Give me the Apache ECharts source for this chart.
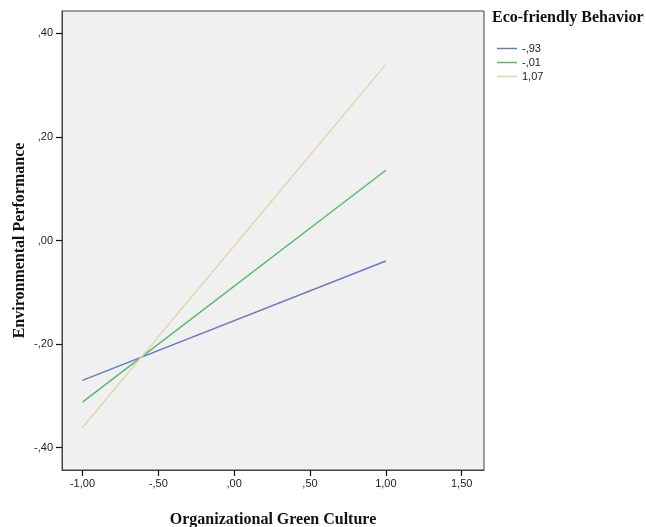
<!DOCTYPE html>
<html><head><meta charset="utf-8">
<script src="https://cdn.jsdelivr.net/npm/echarts@6/dist/echarts.min.js"></script>
<style>html,body{margin:0;padding:0;background:#fff}#c{width:646px;height:527px}</style>
</head><body><div id="c"></div>
<script>
const xValues = [-1.0, 1.0];
const seriesNames = ['-,93', '-,01', '1,07'];
const lowValues = [-0.270, -0.312, -0.361];
const highValues = [-0.0395, 0.1356, 0.340];
const xTicks = [-1.0, -0.5, 0.0, 0.5, 1.0, 1.5];
const yTicks = [-0.4, -0.2, 0.0, 0.2, 0.4];
const colors = ['#6d78c0', '#5ab86e', '#e2d4ab'];

function fmt(v){
  let s = Math.abs(v).toFixed(2).replace('.', ',');
  if (s.startsWith('0')) s = s.slice(1);
  return (v < -1e-9 ? '-' : '') + s;
}

const chart = echarts.init(document.getElementById('c'));
const series = seriesNames.map((n, i) => ({
  name: n, type: 'line', showSymbol: false, symbol: 'none',
  data: [[xValues[0], lowValues[i]], [xValues[1], highValues[i]]],
  lineStyle: {color: colors[i], width: 1.5}, itemStyle: {color: colors[i]},
  animation: false
}));
chart.setOption({
  animation: false,
  grid: {left: 62, right: 162, top: 11, bottom: 57, outerBoundsMode: 'none', containLabel: false, show: true, backgroundColor: '#f0f0f0', borderColor: '#444', borderWidth: 1},
  xAxis: {
    type: 'value', min: -1.135, max: 1.647,
    splitLine: {show: false},
    axisLine: {show: true, onZero: false, lineStyle: {color: '#444'}},
    axisTick: {show: true, inside: false, length: 6, customValues: xTicks, lineStyle: {color: '#111', width: 1.2}},
    axisLabel: {customValues: xTicks, formatter: fmt, fontFamily: 'Arial, Liberation Sans', fontSize: 11, color: '#222', margin: 8},
    name: 'Organizational Green Culture', nameLocation: 'middle', nameGap: 42, nameMoveOverlap: false,
    nameTextStyle: {fontFamily: 'Times New Roman, Liberation Serif', fontWeight: 'bold', fontSize: 16, color: '#111'}
  },
  yAxis: {
    type: 'value', min: -0.443, max: 0.443,
    splitLine: {show: false},
    axisLine: {show: true, onZero: false, lineStyle: {color: '#444'}},
    axisTick: {show: true, inside: false, length: 6, customValues: yTicks, lineStyle: {color: '#111', width: 1.2}},
    axisLabel: {customValues: yTicks, formatter: fmt, fontFamily: 'Arial, Liberation Sans', fontSize: 11, color: '#222', margin: 9},
    name: 'Environmental Performance', nameLocation: 'middle', nameGap: 34, nameRotate: 90, nameMoveOverlap: false,
    nameTextStyle: {fontFamily: 'Times New Roman, Liberation Serif', fontWeight: 'bold', fontSize: 16, color: '#111'}
  },
  legend: {
    show: true, orient: 'vertical', left: 492, top: 38,
    itemWidth: 20, itemHeight: 1.5, itemGap: 3,
    icon: 'rect',
    textStyle: {fontFamily: 'Arial, Liberation Sans', fontSize: 11, color: '#222'},
    data: seriesNames
  },
  graphic: [{
    type: 'text', left: 492, top: 10,
    style: {text: 'Eco-friendly Behavior', font: 'bold 16px "Liberation Serif", "Times New Roman"', fill: '#111'}
  }],
  series: series
});
</script></body></html>
